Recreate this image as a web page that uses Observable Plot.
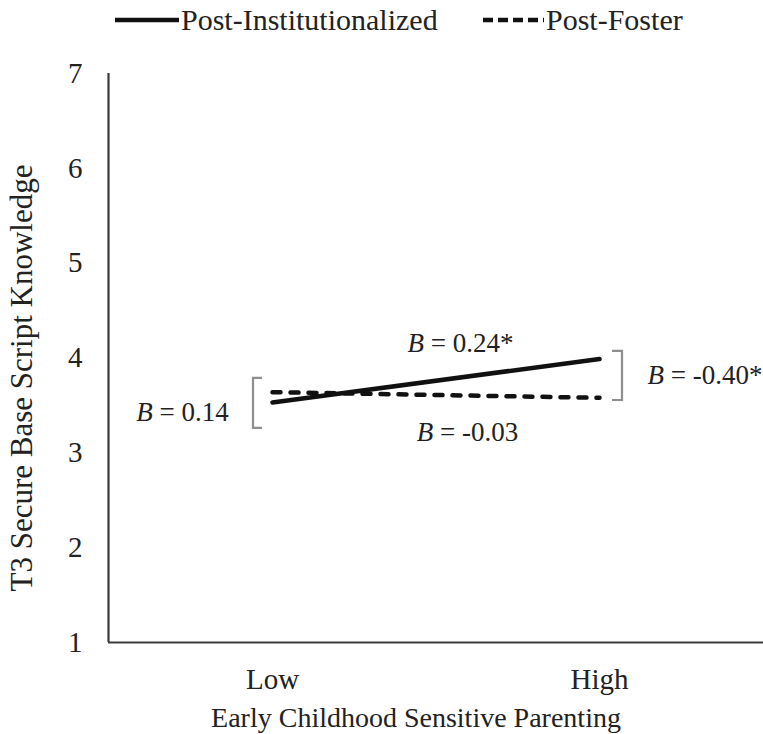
<!DOCTYPE html>
<html>
<head>
<meta charset="utf-8">
<script src="https://cdn.jsdelivr.net/npm/d3@7"></script>
<script src="https://cdn.jsdelivr.net/npm/@observablehq/plot@0.6"></script>
<style>
  html, body { margin: 0; padding: 0; background: #fff; }
  body { font-family: "Liberation Serif", "Times New Roman", serif; color: #222; width: 763px; overflow: hidden; }
  #legend { position: relative; height: 40px; width: 763px; font-size: 30px; }
  .item { position: absolute; top: 0; height: 40px; display: flex; align-items: center; white-space: nowrap; }
  .item svg { display: block; }
  .item span { margin-left: 2px; line-height: 1; }
</style>
</head>
<body>
<div id="legend"></div>
<div id="chart"></div>
<script>
// ---- data ----
const levels = ["Low", "High"];
const seriesNames = ["Post-Institutionalized", "Post-Foster"];
const postInstitutionalized = [3.53, 3.99];
const postFoster = [3.64, 3.58];
const yTicks = [1, 2, 3, 4, 5, 6, 7];
const xTitle = "Early Childhood Sensitive Parenting";
const yTitle = "T3 Secure Base Script Knowledge";
const slopeLabels = ["B = 0.24*", "B = -0.03"];      // simple slopes
const contrastLabels = ["B = 0.14", "B = -0.40*"];   // group differences at Low / High

// ---- tables built from the arrays ----
const instRows = levels.map((l, i) => ({level: l, value: postInstitutionalized[i]}));
const fosterRows = levels.map((l, i) => ({level: l, value: postFoster[i]}));

// ---- legend ----
const legend = document.getElementById("legend");
legend.innerHTML = `
  <div class="item" style="left:115px">
    <svg width="64" height="10"><line x1="0" x2="64" y1="5" y2="5" stroke="#111" stroke-width="4.5"/></svg>
    <span>${seriesNames[0]}</span>
  </div>
  <div class="item" style="left:483px">
    <svg width="61" height="10"><line x1="0" x2="61" y1="5" y2="5" stroke="#111" stroke-width="4.5" stroke-dasharray="10,5"/></svg>
    <span>${seriesNames[1]}</span>
  </div>`;

// ---- helpers (drawn through Plot's scales/dimensions) ----
const leftAxisLine = (index, scales, values, dims) => {
  const g = d3.create("svg:g");
  g.append("line")
    .attr("x1", dims.marginLeft + 0.5).attr("x2", dims.marginLeft + 0.5)
    .attr("y1", dims.marginTop).attr("y2", dims.height - dims.marginBottom)
    .attr("stroke", "#3a3a3a").attr("stroke-width", 2.2);
  return g.node();
};

const bracketSpecs = [
  {at: "Low", y1: 3.257, y2: 3.785, dx: -19, arm: 9},
  {at: "High", y1: 3.552, y2: 4.069, dx: 23, arm: -10}
];
const brackets = (index, scales, values, dims) => {
  const g = d3.create("svg:g");
  for (const b of bracketSpecs) {
    const x = scales.x(b.at) + b.dx;
    const ya = scales.y(b.y2), yb = scales.y(b.y1);
    g.append("path")
      .attr("d", `M${x + b.arm},${ya}H${x}V${yb}H${x + b.arm}`)
      .attr("fill", "none").attr("stroke", "#8f8f8f").attr("stroke-width", 2.2);
  }
  return g.node();
};

const chart = Plot.plot({
  width: 763,
  height: 694,
  marginLeft: 108,
  marginRight: 0,
  marginTop: 33,
  marginBottom: 92,
  style: {fontFamily: "Liberation Serif, Times New Roman, serif", fontSize: "29px", color: "#222", background: "#fff", overflow: "visible"},
  x: {type: "point", domain: levels, padding: 0.5, tickSize: 0, tickPadding: 26, label: null},
  y: {domain: [1, 7], ticks: yTicks, tickFormat: d3.format("d"), tickSize: 0, tickPadding: 26, label: null},
  marks: [
    leftAxisLine,
    Plot.ruleY([1], {stroke: "#3a3a3a", strokeWidth: 2.2}),
    brackets,
    Plot.line(fosterRows, {x: "level", y: "value", stroke: "#111", strokeWidth: 4.5, strokeDasharray: "8,10", strokeLinecap: "round"}),
    Plot.line(instRows, {x: "level", y: "value", stroke: "#111", strokeWidth: 4.5}),
    // slope labels
    Plot.text([slopeLabels[0]], {x: () => levels[0], y: () => 4.154, dx: 188, text: d => d, fontSize: 27, fill: "#222"}),
    Plot.text([slopeLabels[1]], {x: () => levels[0], y: () => 3.215, dx: 195, text: d => d, fontSize: 27, fill: "#222"}),
    // group-difference labels
    Plot.text([contrastLabels[0]], {x: () => levels[0], y: () => 3.425, dx: -90, text: d => d, fontSize: 27, fill: "#222"}),
    Plot.text([contrastLabels[1]], {x: () => levels[1], y: () => 3.816, dx: 48, text: d => d, textAnchor: "start", fontSize: 27, fill: "#222"}),
    // axis titles
    Plot.text([xTitle], {frameAnchor: "bottom", dx: -20, dy: 76, text: d => d, textAnchor: "middle", lineAnchor: "middle", fontSize: 28, fill: "#222"}),
    Plot.text([yTitle], {frameAnchor: "left", dx: -86, dy: 20, rotate: -90, text: d => d, textAnchor: "middle", lineAnchor: "middle", fontSize: 31, fill: "#222"})
  ]
});
document.getElementById("chart").appendChild(chart);

// italic "B" in the coefficient labels
chart.querySelectorAll("text").forEach(t => {
  const s = t.textContent;
  if (s.startsWith("B = ")) {
    t.textContent = "";
    const ns = "http://www.w3.org/2000/svg";
    const a = document.createElementNS(ns, "tspan");
    a.setAttribute("font-style", "italic");
    a.textContent = "B";
    const b = document.createElementNS(ns, "tspan");
    b.textContent = s.slice(1);
    t.appendChild(a); t.appendChild(b);
  }
});
</script>
</body>
</html>
